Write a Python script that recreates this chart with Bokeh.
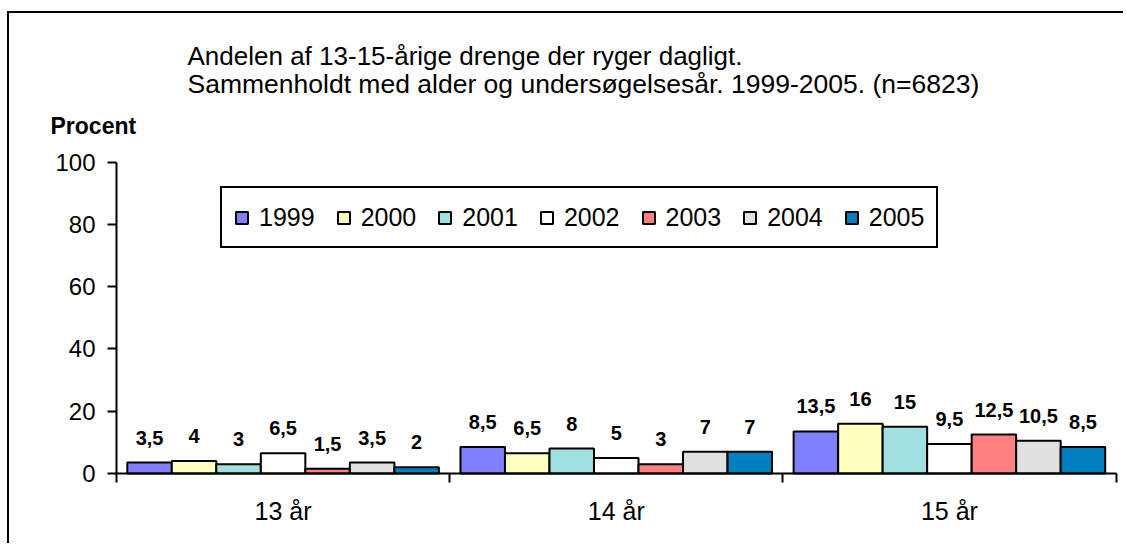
from bokeh.plotting import figure
from bokeh.models import (ColumnDataSource, Range1d, LinearAxis, FixedTicker,
                          Legend, LegendItem, LabelSet, Label)
from bokeh.core.properties import value
from bokeh.embed import file_html
from bokeh.resources import INLINE

# ---------------- data ----------------
categories = ["13 år", "14 år", "15 år"]
years = ["1999", "2000", "2001", "2002", "2003", "2004", "2005"]
v1999 = [3.5, 8.5, 13.5]
v2000 = [4, 6.5, 16]
v2001 = [3, 8, 15]
v2002 = [6.5, 5, 9.5]
v2003 = [1.5, 3, 12.5]
v2004 = [3.5, 7, 10.5]
v2005 = [2, 7, 8.5]
series = [v1999, v2000, v2001, v2002, v2003, v2004, v2005]
colors = ["#8080FF", "#FFFFC0", "#A0E0E0", "#FFFFFF", "#FF8080", "#E0E0E0", "#0080C0"]
title_lines = ["Andelen af 13-15-årige drenge der ryger dagligt.",
               "Sammenholdt med alder og undersøgelsesår. 1999-2005. (n=6823)"]
y_label = "Procent"
y_ticks = [0, 20, 40, 60, 80, 100]
y_max = 100

FONT = "Liberation Sans"

# ---------------- layout (pixels on the canvas) ----------------
W, H = 1116, 532
AX_X0 = 107.0          # canvas x of the y axis
AX_X1 = 1106.5         # canvas x of the right end of the x axis
AX_Y0 = 460.0          # canvas y of value 0
AX_Y1 = 148.5          # canvas y of value 100


def fmt(v):
    return ("%g" % v).replace(".", ",")


ncat = len(categories)
ppx = (AX_X1 - AX_X0) / ncat
ppy = (AX_Y0 - AX_Y1) / y_max
x_range = Range1d(-AX_X0 / ppx, (W - AX_X0) / ppx)
y_range = Range1d(-(H - AX_Y0) / ppy, AX_Y0 / ppy)

p = figure(width=W, height=H, output_backend="svg", toolbar_location=None,
           x_range=x_range, y_range=y_range,
           x_axis_type=None, y_axis_type=None,
           min_border_left=0, min_border_right=0, min_border_top=0, min_border_bottom=0)
p.outline_line_color = None
p.background_fill_color = "white"
p.border_fill_color = "white"
p.styles = {"margin-left": "7px", "margin-top": "11px",
            "border-left": "2px solid black", "border-top": "2px solid black"}

# y axis
yax = LinearAxis(ticker=FixedTicker(ticks=y_ticks, minor_ticks=[]), fixed_location=0,
                 bounds=(0, y_max))
yax.axis_line_width = 2
yax.axis_line_color = "black"
yax.major_tick_line_width = 2
yax.major_tick_out = 9
yax.major_tick_in = 0
yax.minor_tick_line_color = None
yax.major_label_text_font = FONT
yax.major_label_text_font_size = "24px"
yax.major_label_text_color = "black"
yax.major_label_standoff = 12
p.add_layout(yax, "left")

# x axis (ticks at the category borders, labels at the centres)
centers = [i + 0.5 for i in range(ncat)]
borders = [i for i in range(ncat + 1)]
xax = LinearAxis(ticker=FixedTicker(ticks=centers, minor_ticks=borders), fixed_location=0,
                 bounds=(0, ncat))
xax.major_label_overrides = {c: lab for c, lab in zip(centers, categories)}
xax.axis_line_width = 2
xax.axis_line_color = "black"
xax.major_tick_line_color = None
xax.major_tick_out = 0
xax.major_tick_in = 0
xax.minor_tick_line_width = 2
xax.minor_tick_line_color = "black"
xax.minor_tick_out = 9
xax.minor_tick_in = 0
xax.major_label_text_font = FONT
xax.major_label_text_font_size = "25px"
xax.major_label_text_color = "black"
xax.major_label_standoff = 14
p.add_layout(xax, "below")

# bars
bw = 0.1336
n = len(years)
items = []
for j, (yr, vals, col) in enumerate(zip(years, series, colors)):
    xs = [g + 0.5 + (j - (n - 1) / 2) * bw for g in range(ncat)]
    src = ColumnDataSource(dict(x=xs, top=vals, label=[fmt(v) for v in vals]))
    r = p.vbar(x="x", top="top", bottom=0, width=bw, source=src,
               fill_color=col, line_color="black", line_width=2)
    items.append(LegendItem(label=yr, renderers=[r]))
    ls = LabelSet(x="x", y="top", text="label", source=src, y_offset=18,
                  text_align="center", text_baseline="alphabetic",
                  text_font=value(FONT), text_font_style="bold",
                  text_font_size="20px", text_color="black")
    p.add_layout(ls)

legend = Legend(items=items, orientation="horizontal", location=(211, H - 235),
                margin=0, padding=12, spacing=21, label_standoff=10,
                glyph_width=15, glyph_height=15, label_height=34,
                label_text_font=FONT, label_text_font_size="25px",
                label_text_color="black",
                border_line_color="black", border_line_width=2, border_line_alpha=1.0,
                background_fill_color="white", background_fill_alpha=1.0)
p.add_layout(legend, "center")

# titles (screen units measured from the bottom-left of the canvas)
p.add_layout(Label(x=178, y=H - 42, x_units="screen", y_units="screen", text=title_lines[0],
                   text_font=FONT, text_font_size="26px", text_baseline="alphabetic",
                   text_align="left", text_color="black"))
p.add_layout(Label(x=178, y=H - 70, x_units="screen", y_units="screen", text=title_lines[1],
                   text_font=FONT, text_font_size="26.5px", text_baseline="alphabetic",
                   text_align="left", text_color="black"))
p.add_layout(Label(x=41, y=H - 112, x_units="screen", y_units="screen", text=y_label,
                   text_font=FONT, text_font_size="23px", text_font_style="bold",
                   text_baseline="alphabetic", text_align="left", text_color="black"))

open("out.html", "w").write(file_html(p, INLINE))
